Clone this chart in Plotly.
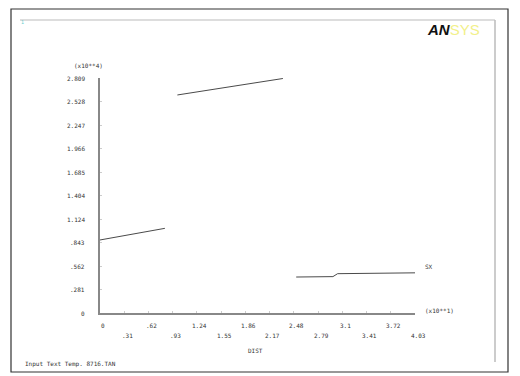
import plotly.graph_objects as go

# Path result along DIST (x10**1), stress values (x10**4)
seg_dist = [[0.0, 0.83], [0.99, 2.34], [2.51, 2.98, 3.04, 4.03]]
seg_sx = [[0.873, 1.012], [2.606, 2.803], [0.43, 0.435, 0.47, 0.48]]

y_ticks = [0, 0.2809, 0.5618, 0.8427, 1.1236, 1.4045, 1.6854, 1.9663, 2.2472, 2.5281, 2.809]
y_labels = ["0", ".281", ".562", ".843", "1.124", "1.404", "1.685", "1.966", "2.247", "2.528", "2.809"]
x_ticks = [0, 0.31, 0.62, 0.93, 1.24, 1.55, 1.86, 2.17, 2.48, 2.79, 3.1, 3.41, 3.72, 4.03]
x_labels = ["0", ".31", ".62", ".93", "1.24", "1.55", "1.86", "2.17", "2.48", "2.79", "3.1", "3.41", "3.72", "4.03"]

FONT = "DejaVu Sans Mono"
TXT = "#333333"

xs, ys = [], []
for dx, dy in zip(seg_dist, seg_sx):
    xs += dx + [None]
    ys += dy + [None]

fig = go.Figure()
fig.add_trace(go.Scatter(x=xs, y=ys, mode="lines",
                         line=dict(color="#4a4a4a", width=1),
                         showlegend=False, hoverinfo="skip"))

annotations = []
for v, t in zip(y_ticks, y_labels):
    annotations.append(dict(x=0, y=v, xref="x", yref="y", text=t, showarrow=False,
                            xanchor="right", yanchor="middle", xshift=-13,
                            font=dict(family=FONT, size=6, color=TXT)))
for i, (v, t) in enumerate(zip(x_ticks, x_labels)):
    annotations.append(dict(x=v, y=0, xref="x", yref="y", text=t, showarrow=False,
                            xanchor="center", yanchor="middle", xshift=3,
                            yshift=-12 if i % 2 == 0 else -22,
                            font=dict(family=FONT, size=6, color=TXT)))

annotations += [
    dict(x=0, y=2.809, xref="x", yref="y", text="(x10**4)", showarrow=False,
         xanchor="center", yanchor="middle", yshift=13, xshift=-12,
         font=dict(family=FONT, size=6, color=TXT)),
    dict(x=4.03, y=0, xref="x", yref="y", text="(x10**1)", showarrow=False,
         xanchor="left", yanchor="middle", xshift=8, yshift=3,
         font=dict(family=FONT, size=6, color=TXT)),
    dict(x=4.03, y=seg_sx[2][-1], xref="x", yref="y", text="SX", showarrow=False,
         xanchor="left", yanchor="middle", xshift=8, yshift=6,
         font=dict(family=FONT, size=6, color=TXT)),
    dict(x=0.5, y=0, xref="paper", yref="y", text="DIST", showarrow=False,
         xanchor="center", yanchor="middle", yshift=-37, xshift=-2,
         font=dict(family=FONT, size=6, color=TXT)),
    dict(x=23, y=364, xref="paper", yref="paper", text="Input Text Temp. 8716.TAN",
         showarrow=False, xanchor="left", yanchor="middle",
         font=dict(family=FONT, size=6, color=TXT)),
    dict(x=22, y=22, text="1", showarrow=False, xanchor="center", yanchor="middle",
         font=dict(family=FONT, size=5, color="#66cccc")),
    dict(x=425, y=30,
         text="<b><i>AN</i></b><span style='color:#f2f08a;font-weight:normal'>SYS</span>",
         showarrow=False, xanchor="left", yanchor="middle",
         font=dict(family="Liberation Sans", size=15, color="#111111")),
]

# pixel-positioned annotations: convert to paper coords
W, H = 520, 376
L, R, T, B = 100, 105, 78, 63
pw, ph = W - L - R, H - T - B
for a in annotations:
    if a.get("xref") is None:
        a["xref"], a["yref"] = "paper", "paper"
        a["x"] = (a["x"] - L) / pw
        a["y"] = (H - B - a["y"]) / ph
    elif a["xref"] == "paper" and a["yref"] == "paper":
        a["x"] = (a["x"] - L) / pw
        a["y"] = (H - B - a["y"]) / ph


def px_rect(x0, y0, x1, y1, color, width):
    return dict(type="rect", xref="paper", yref="paper",
                x0=(x0 - L) / pw, x1=(x1 - L) / pw,
                y0=(H - B - y0) / ph, y1=(H - B - y1) / ph,
                line=dict(color=color, width=width), layer="below")


def px_line(x0, y0, x1, y1, color, width):
    return dict(type="line", xref="paper", yref="paper",
                x0=(x0 - L) / pw, x1=(x1 - L) / pw,
                y0=(H - B - y0) / ph, y1=(H - B - y1) / ph,
                line=dict(color=color, width=width), layer="below")


shapes = [
    px_rect(11, 9, 508, 372, "#333333", 1.2),
    px_line(20, 20, 495, 20, "#bbbbbb", 1),
    px_line(495, 20, 495, 362, "#bbbbbb", 1.5),
]

fig.update_layout(
    width=W, height=H,
    margin=dict(l=L, r=R, t=T, b=B),
    paper_bgcolor="white", plot_bgcolor="white",
    xaxis=dict(range=[0, 4.03], showgrid=False, zeroline=False,
               showline=True, linecolor="#888888", linewidth=1.5,
               tickvals=x_ticks, ticks="inside", ticklen=2, tickcolor="#cccccc",
               showticklabels=False, fixedrange=True),
    yaxis=dict(range=[0, 2.809], showgrid=False, zeroline=False,
               showline=True, linecolor="#888888", linewidth=1.5,
               tickvals=y_ticks, ticks="inside", ticklen=2, tickcolor="#cccccc",
               showticklabels=False, fixedrange=True),
    annotations=annotations,
    shapes=shapes,
)

fig.write_html("out.html")
